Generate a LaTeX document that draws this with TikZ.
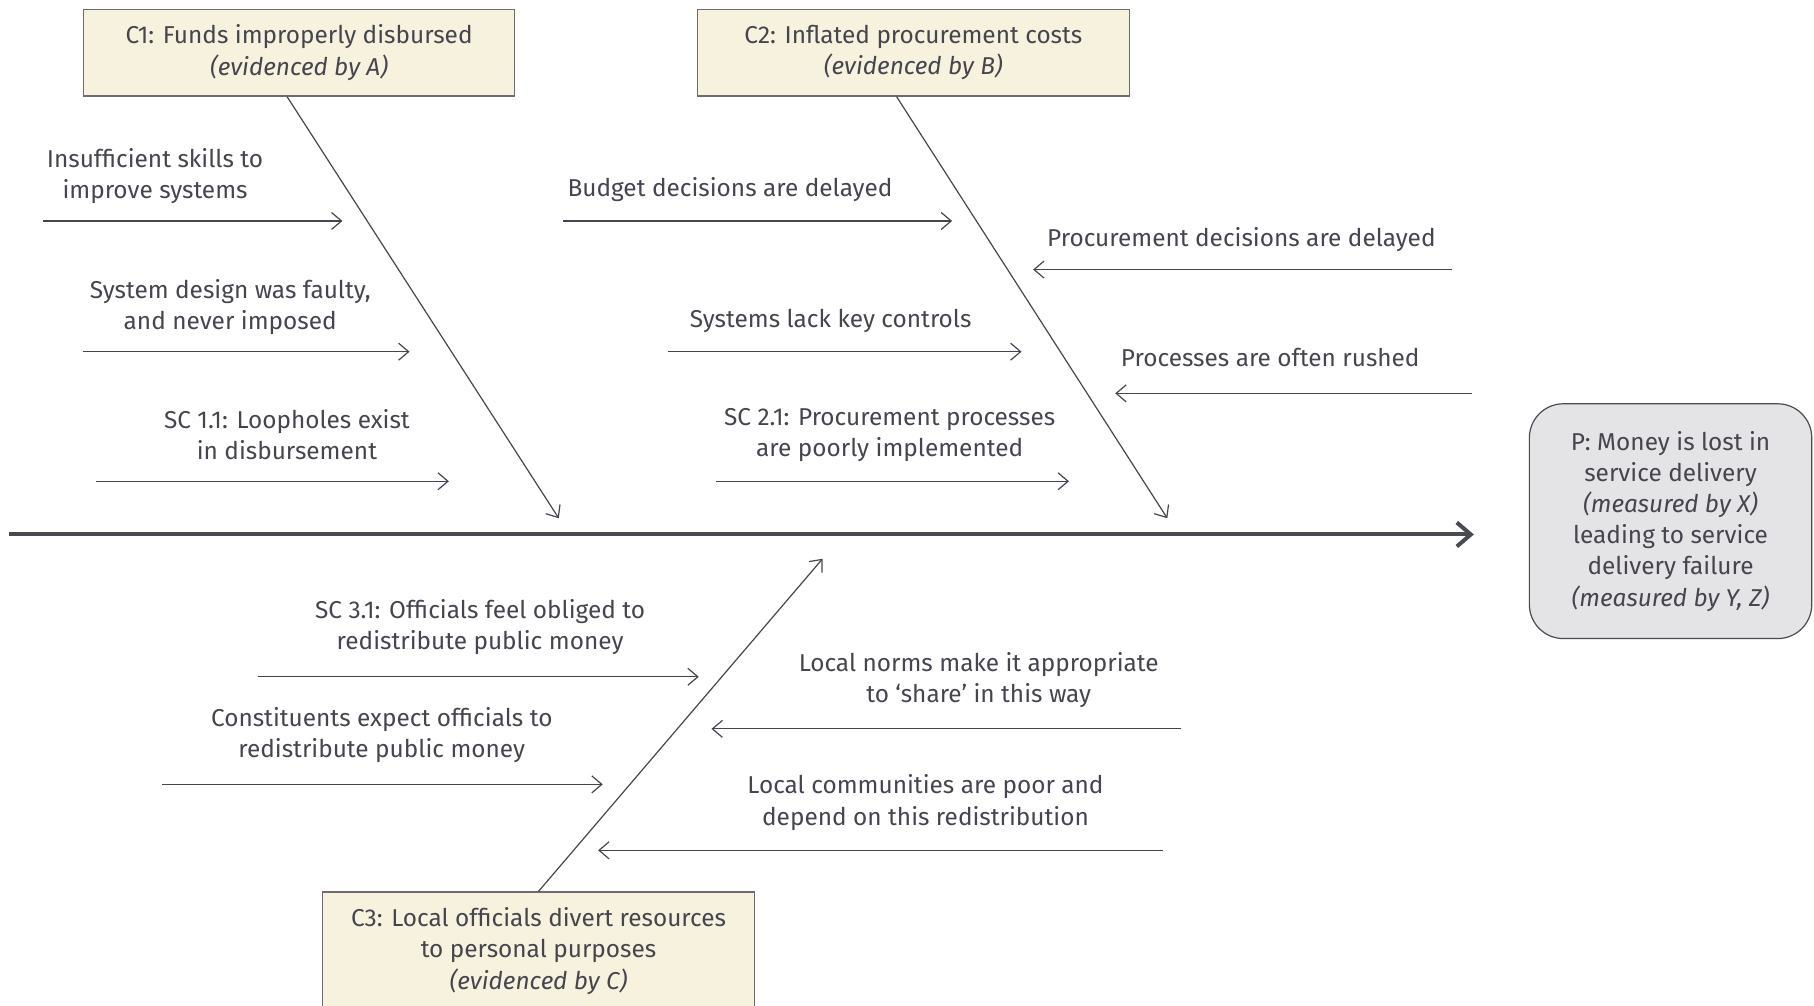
\documentclass[tikz,border=0pt]{standalone}
\usepackage{fontspec}
\setmainfont{Fira Sans}
\usetikzlibrary{arrows.meta,positioning}
\definecolor{ink}{HTML}{45454F}
\definecolor{cream}{HTML}{F7F2DD}
\definecolor{boxline}{HTML}{6B6B70}
\definecolor{pgray}{HTML}{E4E4E6}
\definecolor{spinegray}{HTML}{4A4A52}

\begin{document}
\begin{tikzpicture}[x=0.5785pt, y=-0.5785pt,
    font=\fontsize{12.2}{15.6}\selectfont, text=ink,
    cause/.style={draw=boxline, fill=cream, line width=0.6pt, minimum width=215.8pt,
        minimum height=43.4pt, align=center, inner sep=0pt},
    problem/.style={draw=spinegray, fill=pgray, line width=0.6pt, rounded corners=17pt,
        minimum width=141.2pt, minimum height=117.4pt, align=center, inner sep=0pt},
    lbl/.style={align=center, inner sep=0pt, yshift=-1pt},
    sub/.style={draw=ink, line width=0.6pt, -{Straight Barb[length=5pt, width=8.5pt]}},
    bone/.style={draw=ink, line width=0.6pt, -{Straight Barb[length=5pt, width=8.5pt]}},
    spine/.style={draw=spinegray, line width=2pt, -{Straight Barb[length=7pt, width=12pt]}}]
    \useasboundingbox (0,0) rectangle (1568,869.5);

    % main boxes
    \node[cause] (c1) at (258.5,45.5) {C1: Funds improperly disbursed\\\textit{(evidenced by A)}};
    \node[cause] (c2) at (789.5,45.5) {C2: Inflated procurement costs\\\textit{(evidenced by B)}};
    \node[cause, minimum height=59pt] (c3) at (465.5,822) {C3: Local officials divert resources\\to personal purposes\\\textit{(evidenced by C)}};
    \node[problem] (p) at (1444,450.5) {P: Money is lost in\\service delivery\\\textit{(measured by X)}\\leading to service\\delivery failure\\\textit{(measured by Y, Z)}};

    % spine and bones
    \coordinate (s0) at (8,462);
    \coordinate (s1) at (1274,462);
    \draw[spine] (s0) -- (s1);
    \coordinate (h1) at (483,448);
    \coordinate (h2) at (1009,448);
    \coordinate (h3) at (711,483);
    \draw[bone] ([xshift=-6pt]c1.south) -- (h1);
    \draw[bone] ([xshift=-8.4pt]c2.south) -- (h2);
    \draw[bone] (c3.north) -- (h3);

    % C1 sub-causes
    \node[lbl] (l1) at (134,150.5) {Insufficient skills to\\improve systems};
    \coordinate (a1s) at (37,191);  \coordinate (a1e) at (296,191);
    \draw[sub] (a1s) -- (a1e);
    \node[lbl] (l2) at (199,263.5) {System design was faulty,\\and never imposed};
    \coordinate (a2s) at (72,304);  \coordinate (a2e) at (354,304);
    \draw[sub] (a2s) -- (a2e);
    \node[lbl] (l3) at (248,374) {SC 1.1: Loopholes exist\\in disbursement};
    \coordinate (a3s) at (83,416);  \coordinate (a3e) at (388,416);
    \draw[sub] (a3s) -- (a3e);

    % C2 sub-causes
    \node[lbl] (l4) at (631,162) {Budget decisions are delayed};
    \coordinate (a4s) at (487,191);  \coordinate (a4e) at (823,191);
    \draw[sub] (a4s) -- (a4e);
    \node[lbl] (l5) at (718,276) {Systems lack key controls};
    \coordinate (a5s) at (577,304);  \coordinate (a5e) at (883,304);
    \draw[sub] (a5s) -- (a5e);
    \node[lbl] (l6) at (769,374) {SC 2.1: Procurement processes\\are poorly implemented};
    \coordinate (a6s) at (619,416);  \coordinate (a6e) at (924,416);
    \draw[sub] (a6s) -- (a6e);
    \node[lbl] (l7) at (1073,205) {Procurement decisions are delayed};
    \coordinate (a7s) at (1255,233);  \coordinate (a7e) at (893,233);
    \draw[sub] (a7s) -- (a7e);
    \node[lbl] (l8) at (1098,307) {Processes are often rushed};
    \coordinate (a8s) at (1272,340);  \coordinate (a8e) at (964,340);
    \draw[sub] (a8s) -- (a8e);

    % C3 sub-causes
    \node[lbl] (l9) at (415,540.5) {SC 3.1: Officials feel obliged to\\redistribute public money};
    \coordinate (a9s) at (223,585);  \coordinate (a9e) at (604,585);
    \draw[sub] (a9s) -- (a9e);
    \node[lbl] (l10) at (330,634) {Constituents expect officials to\\redistribute public money};
    \coordinate (a10s) at (140,678);  \coordinate (a10e) at (521,678);
    \draw[sub] (a10s) -- (a10e);
    \node[lbl] (l11) at (846,586) {Local norms make it appropriate\\to ‘share’ in this way};
    \coordinate (a11s) at (1021,630);  \coordinate (a11e) at (615,630);
    \draw[sub] (a11s) -- (a11e);
    \node[lbl] (l12) at (800,692) {Local communities are poor and\\depend on this redistribution};
    \coordinate (a12s) at (1005,735);  \coordinate (a12e) at (517,735);
    \draw[sub] (a12s) -- (a12e);
\end{tikzpicture}
\end{document}
